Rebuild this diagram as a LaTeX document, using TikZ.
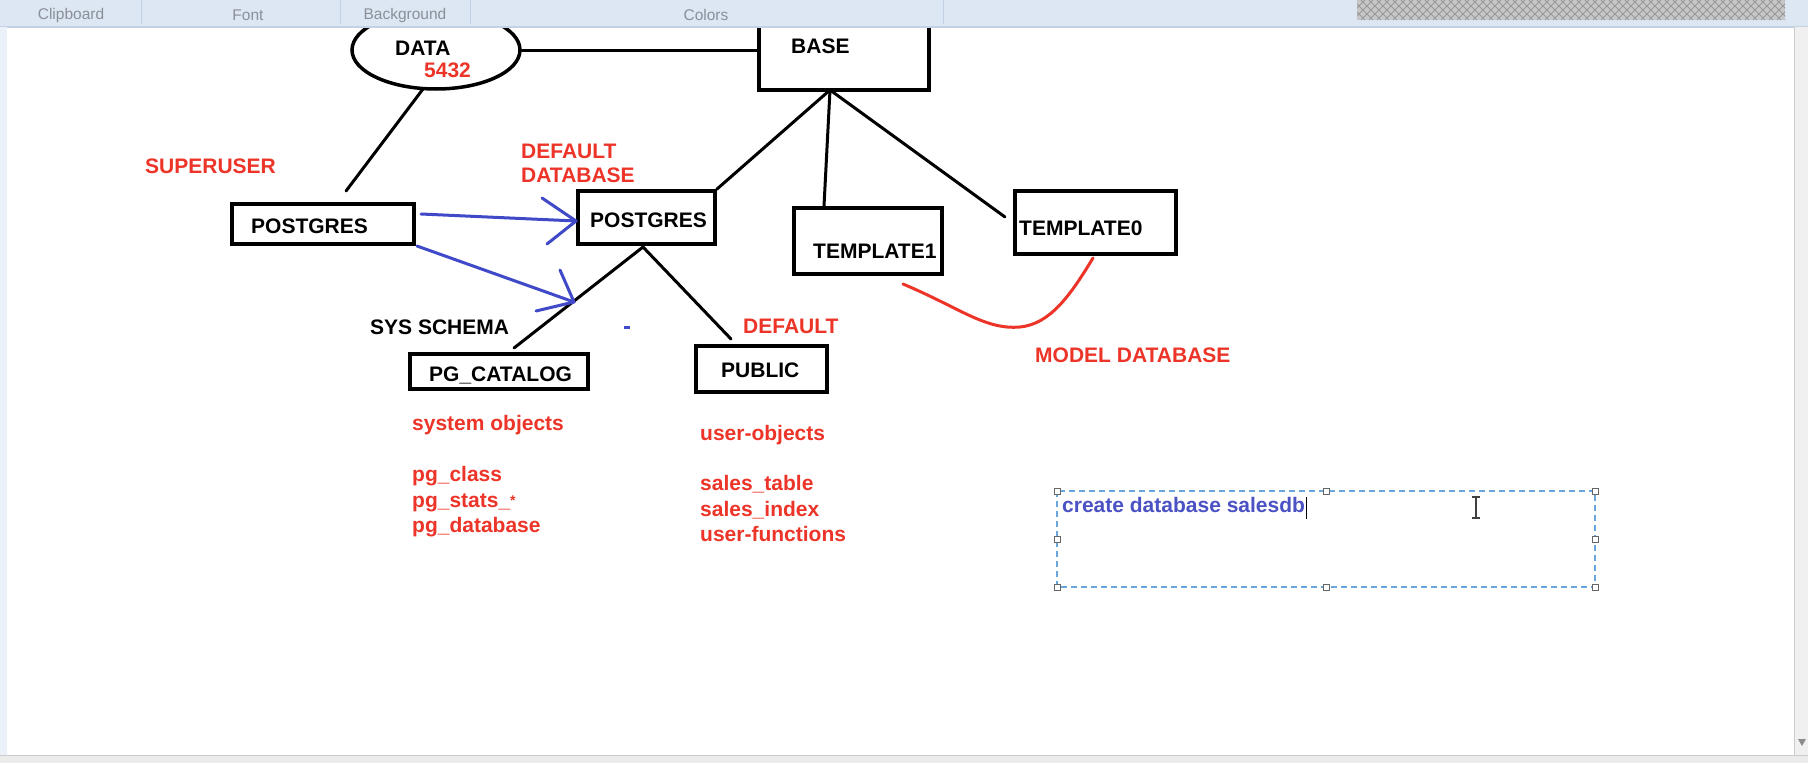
\documentclass[tikz,border=0pt]{standalone}
\usepackage{fontspec}
\setmainfont{Liberation Sans}
\usetikzlibrary{calc,shapes.geometric}
\definecolor{pred}{HTML}{EC3428}
\definecolor{pblue}{HTML}{4049C8}
\definecolor{ribbon}{HTML}{DDE7F3}
\definecolor{ribline}{HTML}{C3D1E4}
\definecolor{ribtext}{HTML}{8A8F98}
\definecolor{selblue}{HTML}{6AA6DC}
\definecolor{txtblue}{HTML}{4A52C4}
\begin{document}
\begin{tikzpicture}[x=1pt,y=-1pt,
  box/.style={draw=black, line width=3.5pt, rectangle, inner sep=0pt},
  lbl/.style={font=\fontsize{21}{24}\selectfont\bfseries, anchor=base west, inner sep=0pt},
  rlbl/.style={lbl, text=pred},
  conn/.style={line width=3pt, black, line cap=round},
  barrow/.style={line width=3pt, pblue, line cap=round, line join=round},
  handle/.style={draw=black!60, fill=white, line width=0.8pt, minimum size=6pt, inner sep=0pt, rectangle},
  ribtxt/.style={font=\fontsize{15.5}{17}\selectfont, text=ribtext, inner sep=0pt},
]
\useasboundingbox (0,0) rectangle (1808,763);
\fill[white] (0,0) rectangle (1808,763);

% ---------- shapes ----------
\node[ellipse, draw=black, line width=3.5pt, minimum width=168pt, minimum height=78pt, inner sep=0pt] (data) at (436,50) {};
\node[box, minimum width=170pt, minimum height=75pt] (base) at (844,52.5) {};
\node[box, minimum width=182pt, minimum height=40pt] (pg1) at (323,224) {};
\node[box, minimum width=137pt, minimum height=53pt] (pg2) at (646.5,217.5) {};
\node[box, minimum width=148pt, minimum height=66pt] (t1) at (868,241) {};
\node[box, minimum width=161pt, minimum height=63pt] (t0) at (1095.5,222.5) {};
\node[box, minimum width=178pt, minimum height=35pt] (cat) at (499,371.5) {};
\node[box, minimum width=131pt, minimum height=46pt] (pub) at (761.5,369) {};

% ---------- texts ----------
\node[lbl] (tdata) at (395,55.5) {DATA};
\node[rlbl] (tport) at (424,77.5) {5432};
\node[lbl] (tbase) at (791,53.5) {BASE};
\node[rlbl] (tsuper) at (145,173.5) {SUPERUSER};
\node[rlbl] (tdef1) at (521,158.5) {DEFAULT};
\node[rlbl] (tdef2) at (521,182.5) {DATABASE};
\node[lbl] (tpg1) at (251,233.5) {POSTGRES};
\node[lbl] (tpg2) at (590,227.5) {POSTGRES};
\node[lbl] (tt1) at (813,258.5) {TEMPLATE1};
\node[lbl] (tt0) at (1019,235.5) {TEMPLATE0};
\node[lbl] (tsys) at (370,334.5) {SYS SCHEMA};
\node[rlbl] (tdef3) at (743,333.5) {DEFAULT};
\node[lbl] (tcat) at (429,381.5) {PG\_CATALOG};
\node[lbl] (tpub) at (721,377.5) {PUBLIC};
\node[rlbl] (tmodel) at (1035,362.5) {MODEL DATABASE};
\node[rlbl] (s1) at (412,430) {system objects};
\node[rlbl] (s2) at (412,481) {pg\_class};
\node[rlbl] (s3) at (412,507) {pg\_stats\_\raisebox{2pt}{\fontsize{14}{14}\selectfont *}};
\node[rlbl] (s4) at (412,532) {pg\_database};
\node[rlbl] (u1) at (700,440) {user-objects};
\node[rlbl] (u2) at (700,490) {sales\_table};
\node[rlbl] (u3) at (700,516) {sales\_index};
\node[rlbl] (u4) at (700,541) {user-functions};

% ---------- connectors ----------
\coordinate (apex) at (830,90);
\coordinate (pgapex) at (643,247);
\coordinate (dbot) at (423,89);
\coordinate (dend) at (346,191);
\coordinate (t1top) at (824,206);
\coordinate (t0end) at (1005,217);
\coordinate (catend) at (514,348);
\coordinate (pubend) at (731,339);
\draw[conn] (data.east) -- (data.east -| base.west);
\draw[conn] (dbot) -- (dend);
\draw[conn] (apex) -- (pg2.north east);
\draw[conn] (apex) -- (t1top);
\draw[conn] (apex) -- (t0end);
\draw[conn] (pgapex) -- (catend);
\draw[conn] (pgapex) -- (pubend);

% blue arrows
\coordinate (a1s) at (421,214);
\coordinate (a1e) at (576,221);
\coordinate (a2s) at (417,246);
\coordinate (a2e) at (574,302);
\draw[barrow] (a1s) -- (a1e);
\draw[barrow] (542,198) -- (a1e) -- (547,244);
\draw[barrow] (a2s) -- (a2e);
\draw[barrow] (560,270) -- (a2e) -- (536,311);
\draw[line width=3pt, pblue] (624,327) -- (630,327);

% red curve
\coordinate (cs) at (903,284);
\coordinate (ce) at (1093,258);
\draw[line width=3pt, pred, line cap=round] (cs) .. controls (960,308) and (985,330) .. (1020,327) .. controls (1050,324) and (1070,296) .. (ce);

% ---------- text box ----------
\draw[selblue, line width=1.3pt, dash pattern=on 6pt off 4pt] (1057,491) rectangle (1595,587);
\foreach \x in {1057,1326,1595} {
  \node[handle] at (\x,491) {};
  \node[handle] at (\x,587) {};
}
\node[handle] at (1057,539) {};
\node[handle] at (1595,539) {};
\node[lbl, text=txtblue] (ctext) at (1062,512) {create database salesdb};
\draw[black, line width=1.2pt] ([xshift=1.5pt]ctext.east |- 0,497) -- ([xshift=1.5pt]ctext.east |- 0,519);
% I-beam cursor
\draw[black!75, line width=1.3pt] (1476,497) -- (1476,518);
\draw[black!75, line width=1.1pt] (1472,497) -- (1480,497) (1472,518) -- (1480,518);

% ---------- Paint window chrome ----------
\fill[ribbon] (0,0) rectangle (1808,27);
\draw[ribline, line width=1.5pt] (0,27) -- (1808,27);
\foreach \x in {141,340,470,943} \draw[ribline, line width=1pt] (\x,0) -- (\x,24);
\node[ribtxt] (rb1) at (71,15) {Clipboard};
\node[ribtxt] (rb2) at (248,15) {Font};
\node[ribtxt] (rb3) at (405,15) {Background};
\node[ribtxt] (rb4) at (706,15) {Colors};
\begin{scope}
  \clip (1357,0) rectangle (1785,20);
  \fill[black!22] (1357,0) rectangle (1785,20);
  \foreach \x in {1337,1345,...,1800} {
    \draw[black!40, line width=0.8pt] (\x,0) -- ++(20,20);
    \draw[black!40, line width=0.8pt] (\x,20) -- ++(20,-20);
  }
\end{scope}
\fill[ribbon!60] (0,27) rectangle (7,755);
\fill[black!6] (1794,27) rectangle (1808,755);
\draw[black!20, line width=0.8pt] (1794,27) -- (1794,755);
\fill[black!45] (1798,739) -- (1806,739) -- (1802,746) -- cycle;
\fill[black!8] (0,755) rectangle (1808,763);
\draw[black!20, line width=0.8pt] (0,755) -- (1808,755);
\end{tikzpicture}
\end{document}
